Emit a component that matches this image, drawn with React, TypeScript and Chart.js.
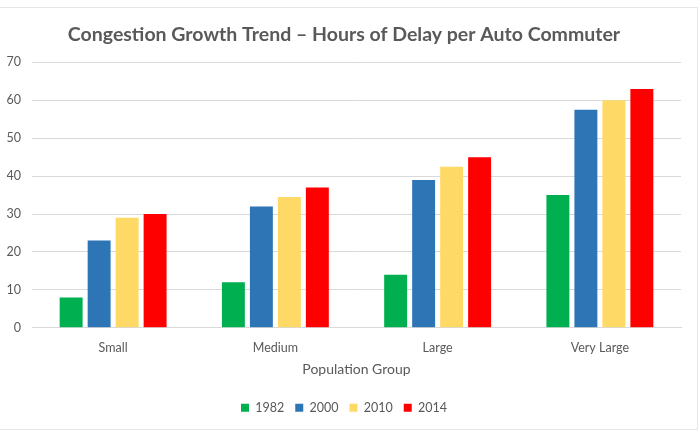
import React, { useEffect, useRef } from "react";
import { Chart, registerables } from "chart.js";

Chart.register(...registerables);

const categories = ["Small", "Medium", "Large", "Very Large"];
const years = ["1982", "2000", "2010", "2014"];
const v1982 = [8, 12, 14, 35];
const v2000 = [23, 32, 39, 57.5];
const v2010 = [29, 34.5, 42.5, 60];
const v2014 = [30, 37, 45, 63];
const colors = ["#00b050", "#2e75b6", "#ffd966", "#ff0000"];
const yTicks = [0, 10, 20, 30, 40, 50, 60, 70];

const FONT = "Lato, 'Open Sans', sans-serif";
const TXT = "#595959";

export default function App() {
  const ref = useRef<HTMLCanvasElement>(null);
  useEffect(() => {
    if (!ref.current) return;
    const series = [v1982, v2000, v2010, v2014];
    const chart = new Chart(ref.current, {
      type: "bar",
      data: {
        labels: categories,
        datasets: series.map((s, i) => ({
          label: years[i],
          data: s,
          backgroundColor: colors[i],
          borderWidth: 0,
          categoryPercentage: 0.69,
          barPercentage: 0.82,
        })),
      },
      options: {
        animation: false,
        responsive: false,
        maintainAspectRatio: false,
        layout: { padding: { left: 7, right: 18, top: 17, bottom: 7 } },
        plugins: {
          title: {
            display: true,
            text: "Congestion Growth Trend – Hours of Delay per Auto Commuter",
            color: TXT,
            font: { family: FONT, size: 19.5, weight: "bold" },
            padding: { top: 6, bottom: 16 },
          },
          legend: {
            position: "bottom",
            labels: {
              boxWidth: 8,
              boxHeight: 8,
              color: TXT,
              font: { family: FONT, size: 12.5 },
              padding: 11,
            },
          },
          tooltip: { enabled: false },
        },
        scales: {
          x: {
            grid: { display: false },
            border: { display: true, color: "#d9d9d9" },
            ticks: { color: TXT, font: { family: FONT, size: 12.5 }, padding: 5 },
            title: {
              display: true,
              text: "Population Group",
              color: TXT,
              font: { family: FONT, size: 14 },
              padding: { top: 0, bottom: 13 },
            },
          },
          y: {
            min: 0,
            max: 70,
            afterBuildTicks: (axis: any) => {
              axis.ticks = yTicks.map((v) => ({ value: v }));
            },
            afterFit: (axis: any) => {
              axis.width = 25;
            },
            grid: { color: "#d9d9d9", drawTicks: false },
            border: { display: false },
            ticks: { color: TXT, font: { family: FONT, size: 12.5 }, padding: 11 },
          },
        },
      },
    });
    return () => chart.destroy();
  }, []);
  return (
    <div style={{ position: "fixed", left: 0, top: 0, width: 699, height: 431, background: "#fff" }}>
      <div
        style={{
          position: "absolute",
          left: -1,
          top: 7,
          width: 697,
          height: 421,
          border: "1px solid #e6e6e6",
        }}
      />
      <canvas ref={ref} width={699} height={431} style={{ position: "absolute", left: 0, top: 0 }} />
    </div>
  );
}
